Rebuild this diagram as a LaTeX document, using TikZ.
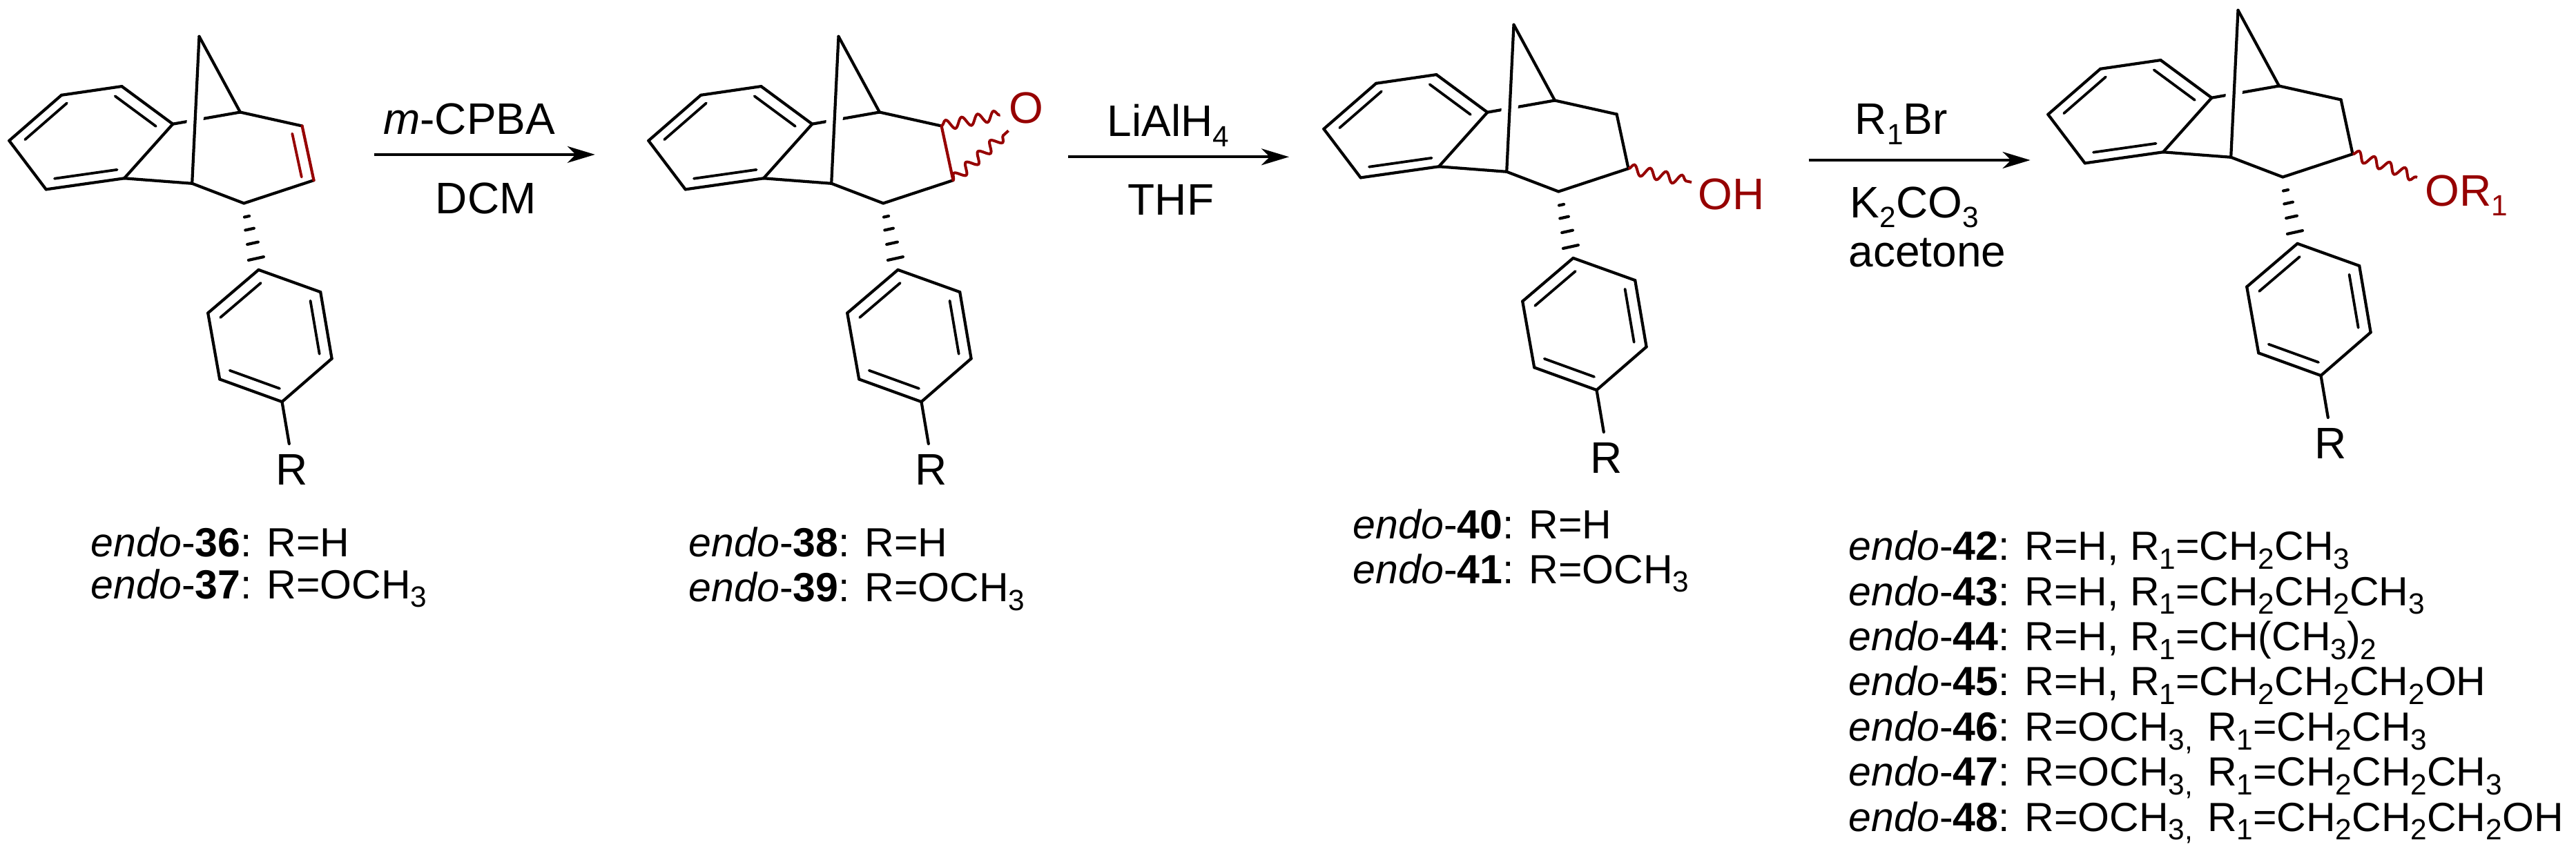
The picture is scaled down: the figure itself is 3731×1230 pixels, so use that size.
\documentclass[tikz,border=0pt]{standalone}
\usepackage{fontspec}
\setmainfont{Liberation Sans}
\usetikzlibrary{arrows.meta,calc,decorations.pathmorphing}

\definecolor{bondred}{RGB}{150,0,0}
\newcommand{\low}[1]{\raisebox{-0.22em}{\fontsize{10.6pt}{12pt}\selectfont #1}}
\newcommand{\compound}[1]{\textit{endo}-\textbf{#1}}

\begin{document}
\begin{tikzpicture}[x=0.25pt,y=-0.25pt,
			bond line/.style={line width=1.05pt,line cap=round,line join=round},
			inner line/.style={line width=0.95pt,line cap=round},
			halo line/.style={preaction={draw=white,line width=6pt,line cap=butt}},
			wavy line/.style={line width=1pt,color=bondred,decorate,decoration={snake,segment length=5.9pt,amplitude=1.8pt}},
			react arrow/.style={line width=1.05pt,-{Stealth[length=10pt,width=6pt,inset=3pt]}},
			atom label/.style={inner sep=0pt,anchor=base west,font=\fontsize{16pt}{18pt}\selectfont},
			small label/.style={inner sep=0pt,anchor=base west,font=\fontsize{14.75pt}{17pt}\selectfont}
			]

			\useasboundingbox (0,0) rectangle (3731,1230);

			% the four skeletons are the same drawing, only shifted
			\foreach \m/\dx/\dy in {a/0/0,b/926/0,c/1904/-17,d/2953/-38} {
				\begin{scope}[shift={(\dx,\dy)}]
					\coordinate (\m-top) at (288.5,52.8);
					\coordinate (\m-c1) at (347.9,162.5);
					\coordinate (\m-c2) at (437.6,182.5);
					\coordinate (\m-c3) at (454.5,261.2);
					\coordinate (\m-c4) at (353.3,294.5);
					\coordinate (\m-c5) at (278.2,265.8);
					\coordinate (\m-r1) at (180,258.3);
					\coordinate (\m-r2) at (250.3,179.7);
					\coordinate (\m-r3) at (176.4,125.1);
					\coordinate (\m-r4) at (89.1,137.8);
					\coordinate (\m-r5) at (13.3,203.8);
					\coordinate (\m-r6) at (66.7,274.4);
					\coordinate (\m-rc) at (128,196);
					\coordinate (\m-p1) at (374.5,390.9);
					\coordinate (\m-p2) at (464.2,423.1);
					\coordinate (\m-p3) at (480.6,519.5);
					\coordinate (\m-p4) at (408.5,582.1);
					\coordinate (\m-p5) at (318.2,549.4);
					\coordinate (\m-p6) at (301.2,453.5);
					\coordinate (\m-pc) at (391,486);
					\coordinate (\m-rr) at (418.8,642.9);
					\coordinate (\m-lc) at (366,238);
				\end{scope}

				\draw[bond line] (\m-r2) -- (\m-c1);
				\draw[bond line,halo line] (\m-top) -- (\m-c5);

				\foreach \u/\v in {top/c1,c1/c2,c3/c4,c4/c5,c5/r1,r1/r2,r2/r3,r3/r4,r4/r5,r5/r6,r6/r1,p1/p2,p2/p3,p3/p4,p4/p5,p5/p6,p6/p1,p4/rr}
					\draw[bond line] (\m-\u) -- (\m-\v);

				\foreach \u/\v in {r2/r3,r4/r5,r6/r1}
					\draw[inner line] ($(\m-\u)!.2!(\m-rc)$) -- ($(\m-\v)!.2!(\m-rc)$);
				\foreach \u/\v in {p6/p1,p2/p3,p4/p5}
					\draw[inner line] ($(\m-\u)!.2!(\m-pc)$) -- ($(\m-\v)!.2!(\m-pc)$);

				\foreach \t/\w in {.2/.9pt,.39/1.6pt,.6/2pt,.83/2.8pt}
					\draw[bond line] ($(\m-c4)!\t!(\m-p1)!\w!90:(\m-p1)$) -- ($(\m-c4)!\t!(\m-p1)!\w!-90:(\m-p1)$);

				\node[atom label,anchor=base] (\m-R) at ($(\m-rr)+(3.6,60)$) {R};
			}

			% alkene
			\draw[bond line,bondred] (a-c2) -- (a-c3);
			\draw[inner line,bondred] ($(a-c2)!.2!(a-lc)$) -- ($(a-c3)!.2!(a-lc)$);

			% epoxide
			\node[atom label,text=bondred] (oxo) at (1460.6,179) {O};
			\coordinate (oxoa) at (1448.5,166.5);
			\coordinate (oxob) at (1460.6,189.4);
			\draw[bond line,bondred] (b-c2) -- (b-c3);
			\draw[wavy line] (b-c2) -- (oxoa);
			\draw[wavy line] (b-c3) -- (oxob);

			% alcohol
			\node[atom label,text=bondred] (hydroxy) at (2459,304) {OH};
			\coordinate (hydroxyend) at (2450,264);
			\draw[bond line] (c-c2) -- (c-c3);
			\draw[wavy line] (c-c3) -- (hydroxyend);

			% ether
			\node[atom label,text=bondred] (ether) at (3512,298.4) {OR\low{1}};
			\coordinate (etherend) at (3501,257);
			\draw[bond line] (d-c2) -- (d-c3);
			\draw[wavy line] (d-c3) -- (etherend);

			% arrows
			\coordinate (s1) at (542.4,223.9);
			\coordinate (e1) at (861.8,223.9);
			\coordinate (s2) at (1547,227.3);
			\coordinate (e2) at (1867,227.3);
			\coordinate (s3) at (2619.7,232);
			\coordinate (e3) at (2940.6,232);
			\foreach \i in {1,2,3}
				\draw[react arrow] (s\i) -- (e\i);

			\node[atom label] (mcpba) at (554.5,195) {\textit{m}-CPBA};
			\node[atom label] (dcm) at (630,310) {DCM};
			\node[atom label] (lah) at (1603,198) {LiAlH\low{4}};
			\node[atom label] (thf) at (1633,311.7) {THF};
			\node[atom label] (rbr) at (2686,195) {R\low{1}Br};
			\node[atom label] (carb) at (2679,315.7) {K\low{2}CO\low{3}};
			\node[atom label] (acet) at (2677,387) {acetone};

			% compound names
			\node[small label] (n36) at (131,806.5) {\compound{36}: R=H};
			\node[small label] (n37) at (131,867) {\compound{37}: R=OCH\low{3}};
			\node[small label] (n38) at (997,806.5) {\compound{38}: R=H};
			\node[small label] (n39) at (997,871.4) {\compound{39}: R=OCH\low{3}};
			\node[small label] (n40) at (1959,780.7) {\compound{40}: R=H};
			\node[small label] (n41) at (1959,845) {\compound{41}: R=OCH\low{3}};

			\foreach \n/\r/\q [count=\i from 0] in {
				42/{H,}/CH\low{2}CH\low{3},
				43/{H,}/CH\low{2}CH\low{2}CH\low{3},
				44/{H,}/CH(CH\low{3})\low{2},
				45/{H,}/CH\low{2}CH\low{2}CH\low{2}OH,
				46/OCH\low{3\rlap{,}}\;/CH\low{2}CH\low{3},
				47/OCH\low{3\rlap{,}}\;/CH\low{2}CH\low{2}CH\low{3},
				48/OCH\low{3\rlap{,}}\;/CH\low{2}CH\low{2}CH\low{2}OH}
				\node[small label] (n\n) at (2677,{811.6+65.4*\i}) {\compound{\n}: R=\r{} R\low{1}=\q};
		\end{tikzpicture}
\end{document}
